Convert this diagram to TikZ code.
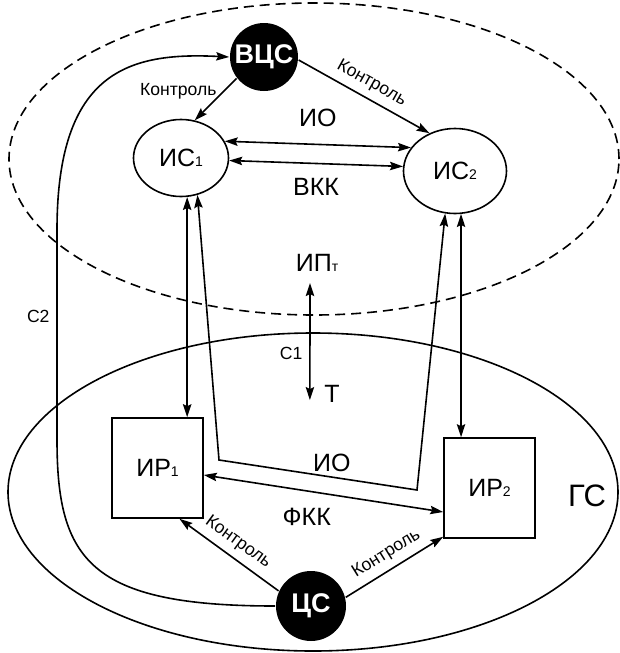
\documentclass[tikz,border=0pt]{standalone}
\usepackage{fontspec}
\setmainfont{Liberation Sans}
\usetikzlibrary{arrows.meta,positioning,shapes.geometric}
\newcommand{\lowidx}[1]{{\fontsize{7}{8}\selectfont #1}}

\begin{document}
\begin{tikzpicture}[x=0.5pt,y=-0.5pt,line width=0.8pt,
	>={Stealth[length=6.5pt,width=4.2pt,inset=1pt]},
	dark/.style={circle,fill=black,text=white,inner sep=0pt,font=\fontsize{13.5}{15}\selectfont\bfseries},
	isnode/.style={ellipse,draw,inner sep=0pt,font=\fontsize{12.5}{14}\selectfont},
	irbox/.style={rectangle,draw,minimum width=45.5pt,minimum height=50pt,font=\fontsize{12.5}{14}\selectfont},
	big/.style={font=\fontsize{12.5}{14}\selectfont},
	small/.style={font=\fontsize{8.8}{10}\selectfont}]
	
	\useasboundingbox (0,0) rectangle (620,653);
	
	% the two areas
	\draw[dash pattern=on 5pt off 3pt] (314,159) ellipse [x radius=152.5pt, y radius=78pt];
	\draw (313,492) ellipse [x radius=152.5pt, y radius=79.5pt];
	\node[font=\fontsize{15.5}{17}\selectfont] (gs) at (587,496) {ГС};
	
	\node[dark,minimum size=34pt] (vcs) at (264,57) {ВЦС};
	\node[isnode,minimum width=47.5pt,minimum height=38.5pt] (ic1) at (181,158) {ИС\lowidx{1}};
	\node[isnode,minimum width=51.5pt,minimum height=42.5pt] (ic2) at (455,171) {ИС\lowidx{2}};
	\node[irbox] (ir1) at (157.5,468) {ИР\lowidx{1}};
	\node[irbox] (ir2) at (489.5,488) {ИР\lowidx{2}};
	\node[dark,minimum size=35pt] (cs) at (311,606) {ЦС};
	\node[big] (ipt) at (317,263) {ИП\lowidx{т}};
	\node[big] (t) at (332,394) {Т};
	
	\coordinate (io1) at (219,460);
	\coordinate (io2) at (417,490);
	
	\draw[->] (vcs.-142) -- node[small,left,pos=0.3]{Контроль} (ic1.70);
	\draw[->] (vcs.-5) -- node[small,sloped,above]{Контроль} (ic2.124);
	\draw[<->] (ic1.21) -- node[big,above=5pt]{ИО} (ic2.152);
	\draw[<->] (ic1.-3) -- node[big,below=3.5pt]{ВКК} (ic2.175);
	
	\draw[<->] (ic1.-81) -- (ic1.-81 |- ir1.north);
	\draw[<->] (ic2.-82) -- (ic2.-82 |- ir2.north);
	\draw[<->] (ic1.-66) -- (io1) -- node[big,above=-1pt,pos=0.57]{ИО} (io2) -- (ic2.-103);
	\draw[<->] ([yshift=-3.5pt]ir1.east) -- node[big,below=5pt,pos=0.43]{ФКК} ([yshift=-12pt]ir2.west);
	
	\draw[<->] ([xshift=-3.5pt,yshift=-2pt]ipt.south) -- node[small,left,pos=0.6]{С1} ([xshift=-3.5pt,yshift=5pt]t.south west);
	
	\draw[->] (cs.155) -- node[small,sloped,above]{Контроль} ([xshift=11pt]ir1.south);
	\draw[->] (cs.14) -- node[small,sloped,above]{Контроль} ([yshift=1pt]ir2.south west);
	
	\draw[->] (cs.west) .. controls (90,606) and (57,560) .. (57,440) -- node[small,left,pos=0.59]{С2} (57,230) .. controls (57,70) and (130,52) .. (vcs.west);
	
\end{tikzpicture}
\end{document}
